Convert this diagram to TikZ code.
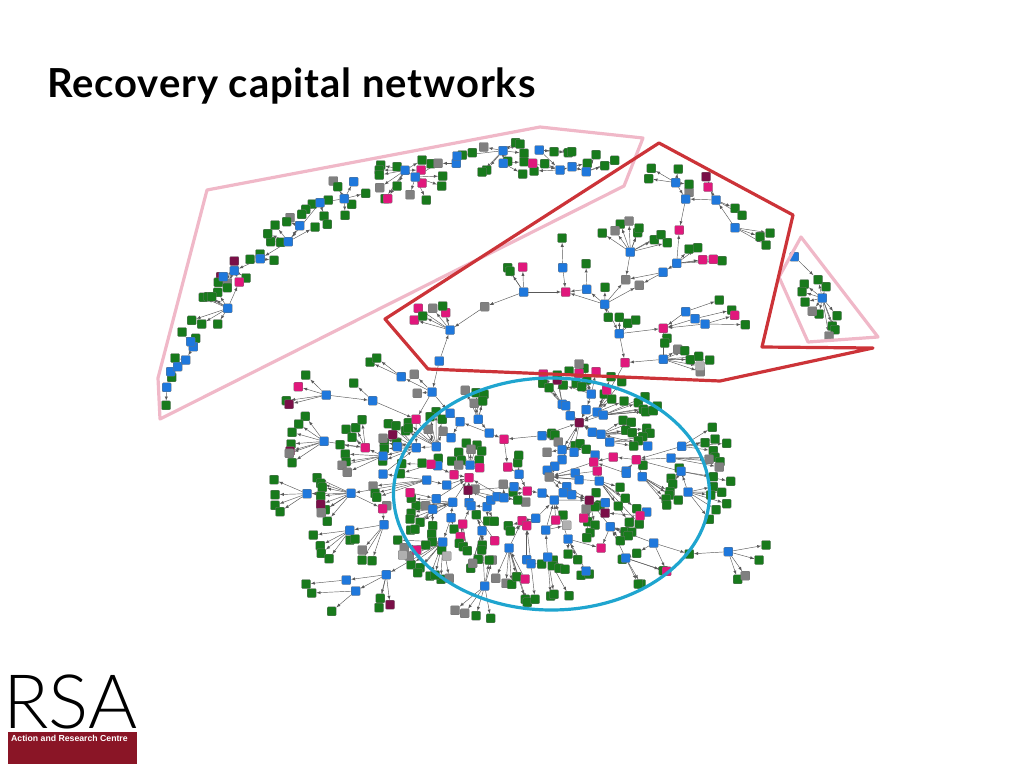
\documentclass[tikz,border=0pt]{standalone}
\usepackage{fontspec}
\setmainfont{Lato}
\newfontfamily\titlefont[LetterSpace=2.2]{Lato}
\newfontfamily\logofont{Lato Light}
\newfontfamily\barfont{Liberation Sans}
\pgfdeclarelayer{edgelayer}
\pgfdeclarelayer{leaflayer}
\pgfsetlayers{edgelayer,leaflayer,main}
\definecolor{nb}{HTML}{1F78DC}
\definecolor{ng}{HTML}{187A1C}
\definecolor{nm}{HTML}{E0187C}
\definecolor{nk}{HTML}{808080}
\definecolor{nl}{HTML}{B0B0B0}
\definecolor{nd}{HTML}{7A0F48}
\definecolor{hullpink}{HTML}{F0B8C8}
\definecolor{hullred}{HTML}{CC3338}
\definecolor{hullblue}{HTML}{1FA5CF}
\definecolor{logored}{HTML}{8A1526}
\tikzset{
  netnode/.style={rectangle,draw=black!55,line width=0.3pt,rounded corners=1pt,minimum size=9pt,inner sep=0pt},
  link/.style={-latex,draw=black!65,line width=0.45pt},
  hull/.style={line width=3.2pt,line join=round},
  zonea/.style={shift={(150,120)},x=0.33333pt,y=-0.33333pt},
  zoneb/.style={shift={(380,135)},x=0.33333pt,y=-0.33333pt},
  zonec/.style={shift={(260,350)},x=0.33333pt,y=-0.33333pt},
  zoned/.style={shift={(500,350)},x=0.33333pt,y=-0.33333pt}
}
% links between hubs, the leaf links get added in front
\gdef\netlinks{a2/a1,a3/a2,a4/a3,a5/a4,a6/a5,a7/a8,a9/a8,a9/a10,a11/a9,a12/a11,a12/a13,a14/a12,a15/a14,a15/a16,a17/a18,a19/a27,a27/a18,a19/a20,a21/a28,a21/a20,a21/a22,a23/a24,a24/a25,a25/a26,a29/a24,
  b1/b2,b3/b2,b4/b3,b4/b5,b6/b5,b8/b5,b7/b5,b8/b7,b8/b10,b8/b11,b9/b10,b12/b10,b12/b11,b13/b12,b13/b14,b15/b14,b16/b15,b17/b15,b18/b17,b8/b19,b19/b20,b19/b25,b21/b20,b22/b20,b23/b20,b24/b25,b24/b20,b26/b28,b27/b28,
  b1/c1,c1/c2,c1/c13,c1/c5,c3/c5,c4/c3,c5/c10,c5/c11,c13/c14,c14/c15,c17/c14,c16/c17,c17/c18,c18/d49,c6/c7,c8/c7,c9/c10,c10/c8,c12/c10,c11/c10,c23/c22,c22/c24,c24/c25,c26/c9,c26/c27,c27/c25,c26/c28,c28/c29,c28/c30,c30/c31,c31/c32,c42/c33,c33/c34,c33/c35,c36/c25,c37/c25,c38/c25,c39/c38,c40/c37,c41/c37,c41/c42,c54/c39,c43/c39,c44/c39,c47/c39,c48/c52,c49/c52,c53/c36,c52/c25,c46/c43,
  b25/d5,d1/d4,d2/d8,d3/d8,d4/d8,d7/d8,d5/d8,d6/d8,d9/d8,d10/d8,d11/d10,d12/d10,d22/d8,d22/c18,d8/d23,d8/d24,d25/d8,d26/d27,d14/d27,d13/d14,d15/d13,d16/d13,d17/d13,d18/d13,d19/d13,d20/d27,d27/d31,d29/d31,d30/d31,d25/d31,d32/d31,d33/d31,d28/d31,d34/d31,d28/d34,d26/d34,d21/d17,d31/d40,d31/d41,d40/d39,d41/d39,d42/d39,d43/d39,d44/d43,d45/d44,d46/d45,d47/d45,d48/d45,d49/d48,d50/d43,d53/d43,d54/d43,d68/d43,d51/d50,d52/d50,d56/d39,d37/d39,d38/d39,d35/d36,d36/d38,d57/d56,d57/d59,d58/d59,d57/d61,d60/d56,d60/d61,d54/d55,d56/d55,d62/d51,d63/d52,d64/d52,d65/d53,d67/d54,d46/c25,d47/c52,d66/d62}
% hubs[colour]{name/x/y,...}
\newcommand{\hubs}[2][nb]{\foreach \n/\x/\y in {#2} {\node[netnode,fill=#1] (\n) at (\x,\y) {};}}
% leaves[colour]{hub}{x/y,...}
\newcommand{\leaves}[3][ng]{\foreach \x/\y [count=\i] in {#3} {
  \node[netnode,fill=#1] (#2-#1-\i) at (\x,\y) {};
  \xdef\netlinks{#2/#2-#1-\i,\netlinks}}}
\begin{document}
\begin{tikzpicture}[x=1pt,y=-1pt]
  \useasboundingbox (0,0) rectangle (1024,768);
  \node[anchor=base west,inner sep=0pt,font=\titlefont\bfseries\fontsize{40}{40}\selectfont] (title) at (47,97) {Recovery capital networks};

  % leaves
  \begin{pgfonlayer}{leaflayer}
  \begin{scope}[zonea]
    \leaves{a1}{48/856}
    \leaves{a2}{65/772}
    \leaves{a4}{75/714}
    \leaves{a5}{137/655,96/636}
    \leaves{a7}{125/601,155/612,203/612,203/517,160/532,175/530,185/530}
    \leaves[nd]{a10}{212/470}
    \leaves[nd]{a9}{253/423}
    \leaves[nk]{a9}{232/490}
    \leaves{a9}{205/487,232/503,288/474}
    \leaves{a11}{300/418,330/402,372/421}
    \leaves{a12}{392/367,362/365,353/341,375/315,495/321}
    \leaves[nk]{a13}{420/293}
    \leaves{a13}{410/305}
    \leaves{a14}{535/240,487/252,467/268,455/283,522/288,532/313}
    \leaves[nk]{a15}{550/183}
    \leaves{a15}{563/200,647/220,605/253,585/286}
    \leaves{a17}{692/135,688/150,688/165,741/140,816/120,741/198,705/236}
    \leaves[nm]{a17}{813/150,713/236}
    \leaves[nk]{a17}{689/203}
    \leaves{a18}{843/131,878/168,875/198,829/240}
    \leaves[nm]{a18}{816/189}
    \leaves[nk]{a18}{780/224}
    \leaves{a20}{937/105,967/98}
    \leaves{a21}{1010/150,996/156,1097/68,1110/72,1122/100,1073/124}
    \leaves{a22}{1122/125,1118/162}
    \leaves{a23}{1212/95,1255/98,1265/95}
    \leaves{a24}{1152/153,1184/131}
    \leaves{a25}{1312/130}
    \leaves{a26}{1338/104,1364/137,1394/121}
  \end{scope}
  \begin{scope}[zoneb]
    \leaves[nm]{b2}{115/520,197/533,103/555}
    \leaves[nk]{b2}{158/520}
    \leaves{b2}{188/513,128/543}
    \leaves{b4}{383/398,390/409}
    \leaves[nm]{b4}{428/396}
    \leaves{b6}{546/309}
    \leaves{b7}{618/386}
    \leaves{b8}{675/457,685/547}
    \leaves{b9}{667/294,721/267,773/293,777/279,823/314,843/299,862/323}
    \leaves[nk]{b9}{705/287,747/258}
    \leaves{b13}{927/342,953/338,1026/377}
    \leaves[nm]{b13}{968/374,1000/373}
    \leaves[nk]{b15}{927/172}
    \leaves{b16}{814/100,895/102,806/131,927/148}
    \leaves[nm]{b17}{984/156}
    \leaves[nd]{b17}{978/125}
    \leaves{b17}{1065/220,1086/241}
    \leaves{b18}{1140/305,1158/330,1170/294}
    \leaves{b19}{718/547,743/565,767/555}
    \leaves{b20}{861/610,854/624}
    \leaves{b21}{1018/495}
    \leaves{b22}{1055/525}
    \leaves[nm]{b23}{1064/541}
    \leaves{b23}{1096/569}
    \leaves[nk]{b24}{893/643,961/710}
    \leaves[nl]{b24}{960/693}
    \leaves{b24}{914/647,931/674,956/664,989/675}
    \leaves{b27}{1273/447,1266/470,1275/501,1317/537,1338/455,1371/542,1357/573,1365/584}
    \leaves[nk]{b27}{1297/529,1347/603}
  \end{scope}
  \begin{scope}[zonec]
    \leaves{c2}{330/36,350/24}
    \leaves[nk]{c1}{463/73,472/130}
    \leaves{c3}{281/99}
    \leaves{c4}{137/75,79/152}
    \leaves[nm]{c4}{115/110}
    \leaves[nd]{c4}{87/163}
    \leaves{c6}{136/199,116/222,96/247,93/282,96/338}
    \leaves[nd]{c6}{90/303}
    \leaves[nk]{c6}{88/310}
    \leaves{c7}{240/284,258/238,287/233,306/209,276/262}
    \leaves{c8}{256/312,258/335}
    \leaves[nk]{c8}{246/346,262/367}
    \leaves{c10}{385/221,408/227,373/278,373/296,410/278,368/333}
    \leaves[nk]{c10}{369/265}
    \leaves[nd]{c10}{398/254}
    \leaves{c11}{437/242,445/218,445/235,528/185,510/200,547/208}
    \leaves[nk]{c11}{505/238,549/244}
    \leaves[nk]{c16}{616/121,643/160}
    \leaves{c16}{648/128,672/133,668/153}
    \leaves{c19}{619/279,651/285,665/303,596/307,658/330,575/333,604/331}
    \leaves[nk]{c19}{633/298,596/345}
    \leaves[nm]{c19}{659/353}
    \leaves{c22}{486/339,535/325,425/341,421/371}
    \leaves[nk]{c26}{339/408}
    \leaves{c26}{345/430,350/442}
    \leaves{c28}{171/383,182/400,187/412,182/438,196/479,202/514}
    \leaves[nd]{c28}{182/463}
    \leaves[nk]{c28}{184/488}
    \leaves{c29}{42/389,45/434,45/466,60/485}
    \leaves[nk]{c30}{380/467}
    \leaves{c31}{306/630,336/632}
    \leaves[nk]{c31}{307/600}
    \leaves{c32}{160/555,181/587,184/610,207/626,270/570,285/567}
    \leaves{c33}{361/745,357/773}
    \leaves[nd]{c33}{390/764}
    \leaves{c34}{138/702}
    \leaves{c35}{155/729,215/784}
    \leaves[nk]{c37}{497/467}
    \leaves{c37}{468/467,454/445,453/490,450/507,480/517}
    \leaves{c40}{452/540,465/538,518/527,515/552}
    \leaves{c41}{582/537}
    \leaves{c42}{517/575,497/585,413/570,453/644,480/653,473/668,510/678,545/600,543/688,525/675}
    \leaves[nk]{c42}{433/593,448/618,568/685}
    \leaves[nl]{c42}{428/615,560/618}
    \leaves[nm]{c42}{470/600}
    \leaves[nm]{c54}{601/560}
    \leaves{c54}{598/580,610/590,622/602}
    \leaves{c43}{667/585,665/600,655/628,632/655,649/494}
    \leaves[nk]{c43}{638/640}
    \leaves[nk]{c46}{585/781,614/790,697/630}
    \leaves{c46}{648/797,692/805,688/630}
    \leaves{c47}{683/513,703/514}
    \leaves[nk]{c52}{645/417}
  \end{scope}
  \begin{scope}[zoned]
    \leaves{d1}{207/63,252/55,260/90,228/100,245/110,190/105}
    \leaves[nk]{d1}{237/42}
    \leaves[nm]{d1}{237/70,288/65}
    \leaves[nm]{d2}{130/72}
    \leaves[nd]{d2}{172/90}
    \leaves{d2}{172/75,128/100,147/113}
    \leaves{d5}{313/132,333/80,365/95,335/147,372/153}
    \leaves[nm]{d5}{320/120}
    \leaves{d6}{415/158,435/140,472/168,430/178,437/185,460/182}
    \leaves{d10}{369/211,394/217,377/241,397/248,440/235,450/250}
    \leaves{d11}{428/260,415/272,401/288}
    \leaves{d13}{429/346}
    \leaves{d16}{637/232,615/278,645/267,680/280,640/302}
    \leaves{d15}{645/322,660/335}
    \leaves[nk]{d15}{627/328,658/351}
    \leaves{d17}{538/354,513/385,518/402,640/380,692/394}
    \leaves{d21}{640/410,632/435,665/427,680/461,648/479,628/508}
    \leaves{d18}{510/425,508/435,498/447,535/450,500/465}
    \leaves{d22}{155/250,165/255}
    \leaves[nk]{d22}{175/276}
    \leaves[nk]{d23}{141/307}
    \leaves{d23}{225/287,240/281,259/298}
    \leaves{d34}{360/412,376/445,410/476,355/468,418/522,388/517}
    \leaves{d39}{288/428,300/465,285/470,263/515,285/525,270/548,260/563}
    \leaves[nk]{d39}{258/477}
    \leaves[nm]{d39}{251/504}
    \leaves{d56}{375/545,395/546,385/557,361/572}
    \leaves{d57}{410/610}
    \leaves{d58}{798/585,777/630,713/688}
    \leaves[nk]{d58}{736/677}
    \leaves{d60}{367/628,423/702,415/702,490/662}
    \leaves[nk]{d46}{10/403,77/456}
    \leaves{d46}{39/426,53/450}
    \leaves{d48}{53/338,56/316}
    \leaves{d53}{189/495}
    \leaves[nl]{d53}{200/526}
    \leaves{d50}{25/527,31/543}
    \leaves[nk]{d62}{18/700,-13/685}
    \leaves{d62}{35/703,50/680,76/748,82/757}
    \leaves{d64}{105/748,125/642}
    \leaves{d65}{152/738,162/733,160/630,157/647,177/655,195/658,207/737}
    \leaves{d54}{204/612,233/629}
    \leaves{d67}{243/676,268/672}
  \end{scope}
  \end{pgfonlayer}

  % hubs
  \begin{scope}[zonea]
    \hubs{a1/50/802,a2/62/755,a3/83/740,a4/107/720,a5/130/680,a6/122/665,a7/233/565,a9/253/452,a10/220/470,a11/331/416,a12/415/365,a13/449/317,a14/510/248,a15/583/236,a16/611/185,a17/765/151,a18/796/171,a19/919/130,a20/921/108,a21/1059/92,a22/1060/130,a23/1168/90,a24/1230/150,a25/1266/140,a26/1309/155}
    \hubs[nm]{a8/268/486,a29/1148/130}
    \hubs[nk]{a27/864/130,a28/1001/81}
  \end{scope}
  \begin{scope}[zoneb]
    \hubs{b1/178/678,b2/210/585,b4/431/471,b6/548/398,b7/620/463,b8/674/508,b9/751/351,b12/849/412,b13/890/385,b15/917/192,b16/887/143,b17/1008/195,b18/1065/278,b19/718/596,b21/917/530,b22/945/551,b23/975/567,b24/850/673,b26/1243/365,b27/1327/489}
    \hubs[nm]{b5/557/471,b14/898/285,b20/850/580,b25/735/683}
    \hubs[nk]{b3/314/515,b10/737/434,b11/778/451}
    \hubs[ng]{b28/1314/434}
  \end{scope}
  \begin{scope}[zonec]
    \hubs{c1/516/126,c2/424/80,c3/338/152,c4/199/135,c6/192/274,c8/369/318,c9/369/372,c10/469/293,c11/529/290,c12/412/290,c13/570/190,c14/600/215,c15/573/263,c16/655/208,c17/688/249,c19/630/345,c23/533/347,c26/500/390,c27/560/405,c28/273/430,c29/141/431,c31/372/524,c32/269/541,c33/379/674,c34/259/690,c35/287/723,c36/529/446,c37/578/457,c38/627/458,c39/633/467,c40/518/478,c41/573/503,c42/548/576,c43/666/542,c46/674/708,c47/681/470,c48/692/450,c49/711/440}
    \hubs[nm]{c5/468/208,c7/316/293,c18/732/268,c22/513/343,c24/582/374,c25/627/383,c30/368/476,c44/704/572,c53/450/428,c54/608/522}
    \hubs[nd]{c52/624/421}
  \end{scope}
  \begin{scope}[zoned]
    \hubs{d1/274/132,d2/187/163,d3/197/167,d4/258/179,d5/291/186,d6/310/195,d7/211/197,d9/277/247,d10/303/253,d11/329/276,d12/443/288,d15/513/324,d16/545/289,d17/543/364,d18/427/380,d19/379/363,d20/379/370,d21/564/426,d22/126/257,d23/186/299,d24/222/307,d25/186/329,d26/285/315,d29/164/349,d30/142/361,d32/226/369,d33/237/389,d34/298/393,d35/440/486,d37/316/458,d40/200/410,d41/190/428,d42/215/434,d43/163/450,d44/126/429,d46/12/443,d47/42/410,d48/57/373,d50/107/505,d53/137/540,d54/204/567,d56/331/530,d57/461/579,d58/685/605,d60/377/624,d62/27/594,d63/80/629,d64/93/641,d65/143/621,d67/258/663}
    \hubs[nm]{d13/409/329,d14/340/321,d27/281/336,d28/292/363,d36/420/497,d45/82/423,d49/23/351,d51/66/512,d52/80/527,d55/303/594,d61/500/664,d66/75/687,d68/167/510}
    \hubs[nk]{d31/148/381}
    \hubs[nd]{d8/238/218,d38/315/489,d39/268/451}
    \hubs[ng]{d59/568/612}
  \end{scope}

  % links
  \begin{pgfonlayer}{edgelayer}
    \foreach \a/\b in \netlinks
      \draw[link] (\a) -- (\b);
  \end{pgfonlayer}

  % outlines
  \draw[hull,hullpink] (207,190) -- (540,127) -- (643,138) -- (624,186) -- (160,419) -- (158,378) -- cycle;
  \draw[hull,hullpink] (801,237) -- (878,337) -- (808,342) -- (779,277) -- cycle;
  \draw[hull,hullred] (659,143) -- (793,215) -- (762,347) -- (873,348) -- (720,381) -- (428,369) -- (385,319) -- cycle;
  \draw[hull,hullblue] (551.5,494) ellipse [x radius=158,y radius=116];

  % logo
  \node[anchor=base west,inner sep=0pt,font=\logofont\fontsize{75}{75}\selectfont] (rsa) at (3,728) {RSA};
  \node[anchor=north west,fill=logored,minimum width=129pt,minimum height=32pt,inner sep=0pt] (bar) at (8,732) {};
  \node[anchor=west,inner sep=0pt,text=white,font=\barfont\bfseries\fontsize{8.7}{9}\selectfont] (barlabel) at (11,738.5) {Action and Research Centre};
\end{tikzpicture}
\end{document}
